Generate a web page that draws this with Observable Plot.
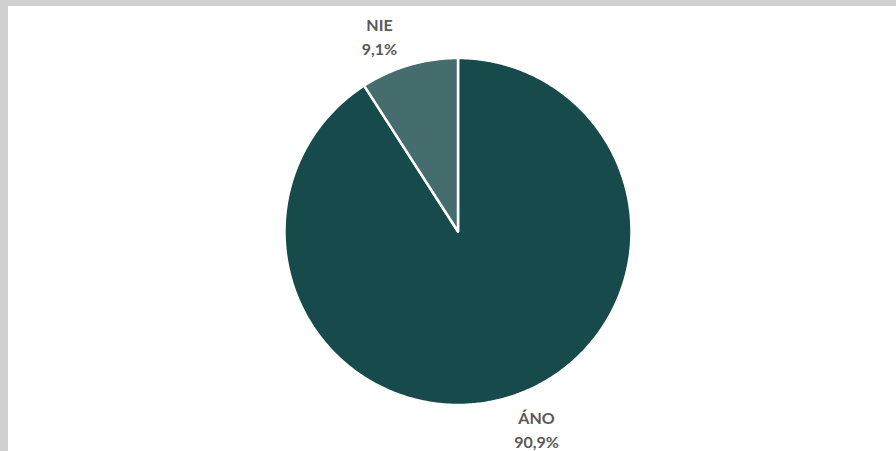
<!DOCTYPE html>
<html><head><meta charset="utf-8">
<script src="https://cdn.jsdelivr.net/npm/d3@7"></script>
<script src="https://cdn.jsdelivr.net/npm/@observablehq/plot@0.6"></script>
<style>
html,body{margin:0;padding:0;background:#fff;}
#wrap{width:888px;height:445px;border-top:6px solid #d0d0d0;border-left:8px solid #d0d0d0;overflow:hidden;}
</style></head>
<body><div id="wrap"></div>
<script>
const categories = ["ÁNO", "NIE"];
const values = [90.9, 9.1];
const valueLabels = ["90,9%", "9,1%"];
const colors = ["#174b4b", "#466d6d"];

const W = 888, H = 445, R = 173.5, cx = 449.5, cy = 225;
const pie = d3.pie().sort(null).value(d => d.value)(categories.map((c, i) => ({cat: c, value: values[i], label: valueLabels[i]})));

const pts = [];
for (const s of pie) {
  const n = Math.max(2, Math.ceil((s.endAngle - s.startAngle) / 0.01));
  pts.push({cat: s.data.cat, x: 0, y: 0});
  for (let k = 0; k <= n; k++) {
    const a = s.startAngle + (s.endAngle - s.startAngle) * k / n;
    pts.push({cat: s.data.cat, x: Math.sin(a), y: Math.cos(a)});
  }
  pts.push({cat: s.data.cat, x: 0, y: 0});
}
const labels = pie.map(s => {
  const m = (s.startAngle + s.endAngle) / 2;
  const sx = Math.sign(Math.sin(m));
  return {text: s.data.cat + "\n" + s.data.label, x: 1.18 * Math.sin(m) + sx * 0.12, y: 1.18 * Math.cos(m)};
});

const chart = Plot.plot({
  width: W, height: H,
  margin: 0,
  x: {domain: [-cx / R, (W - cx) / R], axis: null},
  y: {domain: [-(H - cy) / R, cy / R], axis: null},
  color: {domain: categories, range: colors},
  style: {background: "#fff"},
  marks: [
    Plot.line(pts, {x: "x", y: "y", z: "cat", fill: "cat", stroke: "#fff", strokeWidth: 2.5, curve: "linear"}),
    Plot.text(labels, {x: "x", y: "y", text: "text", fill: "#595959", fontFamily: "Lato", fontWeight: "bold", fontSize: 16, lineHeight: 1.5, textAnchor: "middle"})
  ]
});
document.getElementById("wrap").appendChild(chart);
</script></body></html>
